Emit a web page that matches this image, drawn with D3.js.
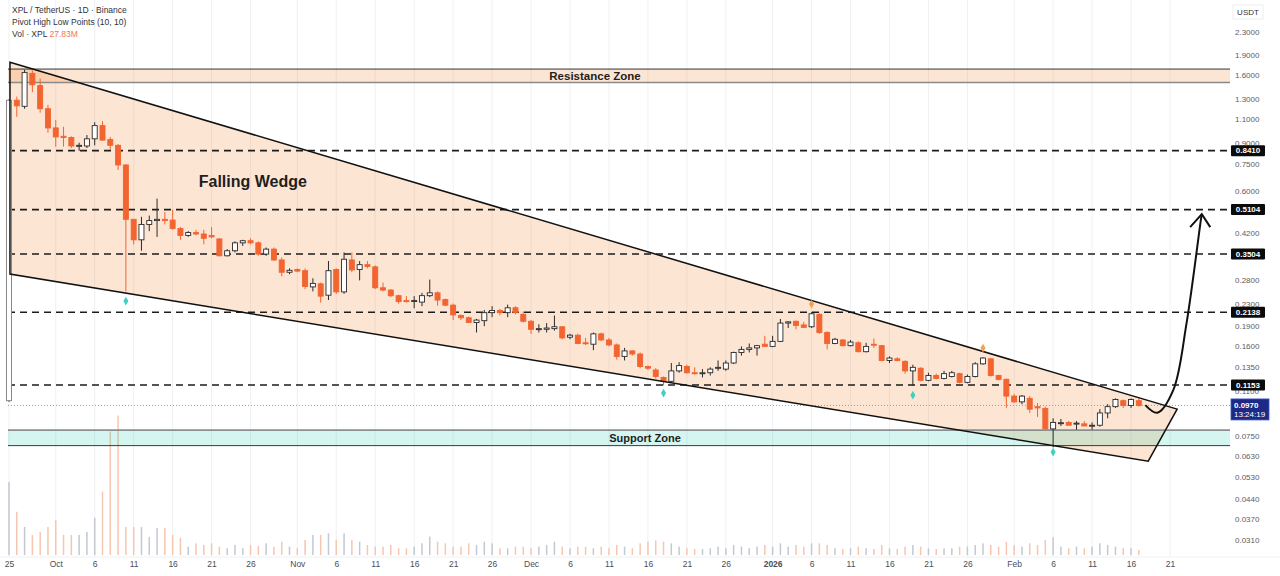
<!DOCTYPE html>
<html>
<head>
<meta charset="utf-8">
<script src="https://cdn.jsdelivr.net/npm/d3@7"></script>
<style>
	body { margin: 0; background: #fff; }
	#chart { width: 1280px; height: 576px; }
	text { font-family: "Liberation Sans", Arial, sans-serif; }
</style>
</head>
<body>
<div id="chart"></div>
<script>

// daily candles from the listing day on (one value per day)
const startDay = "2025-09-25";

const openPrices = [0.101, 1.29, 1.225, 1.62, 1.46, 1.20, 1.02, 0.95, 0.94, 0.875,
	0.875, 0.93, 1.04, 0.925, 0.88, 0.745, 0.47, 0.395, 0.45, 0.465,
	0.47, 0.467, 0.435, 0.41, 0.42, 0.415, 0.41, 0.398, 0.345, 0.36,
	0.385, 0.392, 0.385, 0.35, 0.365, 0.333, 0.30, 0.307, 0.304, 0.265,
	0.272, 0.247, 0.307, 0.254, 0.333, 0.307, 0.32, 0.314, 0.263, 0.258,
	0.246, 0.236, 0.234, 0.233, 0.246, 0.252, 0.238, 0.227, 0.208, 0.204,
	0.196, 0.199, 0.213, 0.217, 0.213, 0.222, 0.21, 0.198, 0.185, 0.185,
	0.186, 0.189, 0.173, 0.176, 0.165, 0.163, 0.178, 0.169, 0.162, 0.147,
	0.154, 0.150, 0.135, 0.131, 0.123, 0.119, 0.130, 0.135, 0.128, 0.127,
	0.128, 0.133, 0.132, 0.139, 0.152, 0.156, 0.158, 0.163, 0.160, 0.167,
	0.195, 0.198, 0.192, 0.189, 0.21, 0.18, 0.164, 0.169, 0.161, 0.165,
	0.153, 0.163, 0.161, 0.142, 0.144, 0.141, 0.130, 0.133, 0.12, 0.125,
	0.122, 0.124, 0.127, 0.118, 0.124, 0.138, 0.144, 0.125, 0.121, 0.105,
	0.1, 0.103, 0.096, 0.0945, 0.0795, 0.0835, 0.084, 0.083, 0.083, 0.0815,
	0.082, 0.091, 0.096, 0.101, 0.097, 0.101];

const highPrices = [1.30, 1.33, 1.67, 1.66, 1.55, 1.24, 1.09, 1.03, 0.95, 0.90,
	0.96, 1.07, 1.08, 0.945, 0.89, 0.75, 0.47, 0.48, 0.485, 0.56,
	0.50, 0.51, 0.44, 0.425, 0.43, 0.43, 0.44, 0.40, 0.365, 0.39,
	0.395, 0.40, 0.39, 0.37, 0.37, 0.34, 0.31, 0.31, 0.31, 0.285,
	0.275, 0.33, 0.31, 0.355, 0.355, 0.33, 0.33, 0.318, 0.275, 0.26,
	0.248, 0.245, 0.245, 0.252, 0.282, 0.255, 0.24, 0.23, 0.21, 0.206,
	0.202, 0.218, 0.225, 0.22, 0.228, 0.225, 0.215, 0.20, 0.193, 0.195,
	0.208, 0.19, 0.178, 0.178, 0.172, 0.18, 0.18, 0.172, 0.164, 0.158,
	0.155, 0.152, 0.136, 0.133, 0.124, 0.139, 0.14, 0.137, 0.134, 0.132,
	0.134, 0.142, 0.142, 0.153, 0.16, 0.164, 0.162, 0.175, 0.175, 0.202,
	0.198, 0.199, 0.197, 0.214, 0.212, 0.182, 0.172, 0.17, 0.169, 0.167,
	0.165, 0.171, 0.162, 0.147, 0.146, 0.142, 0.137, 0.134, 0.128, 0.127,
	0.13, 0.13, 0.128, 0.126, 0.14, 0.146, 0.145, 0.126, 0.122, 0.107,
	0.106, 0.105, 0.099, 0.096, 0.087, 0.0865, 0.085, 0.085, 0.085, 0.084,
	0.094, 0.098, 0.103, 0.102, 0.103, 0.103];

const lowPrices = [0.10, 1.12, 1.20, 1.38, 1.16, 0.98, 0.87, 0.87, 0.86, 0.84,
	0.86, 0.88, 0.915, 0.846, 0.714, 0.255, 0.38, 0.36, 0.425, 0.405,
	0.45, 0.43, 0.395, 0.405, 0.41, 0.38, 0.40, 0.343, 0.343, 0.355,
	0.375, 0.38, 0.345, 0.345, 0.33, 0.29, 0.295, 0.30, 0.26, 0.255,
	0.232, 0.237, 0.25, 0.25, 0.30, 0.28, 0.31, 0.26, 0.255, 0.243,
	0.23, 0.232, 0.221, 0.225, 0.243, 0.226, 0.225, 0.20, 0.20, 0.195,
	0.18, 0.19, 0.205, 0.208, 0.205, 0.21, 0.196, 0.178, 0.18, 0.18,
	0.183, 0.17, 0.17, 0.163, 0.162, 0.155, 0.167, 0.16, 0.143, 0.142,
	0.148, 0.133, 0.131, 0.122, 0.115, 0.118, 0.128, 0.127, 0.126, 0.123,
	0.125, 0.13, 0.13, 0.138, 0.148, 0.152, 0.148, 0.159, 0.159, 0.166,
	0.187, 0.185, 0.188, 0.187, 0.178, 0.156, 0.163, 0.16, 0.16, 0.152,
	0.152, 0.158, 0.141, 0.139, 0.141, 0.127, 0.115, 0.119, 0.119, 0.121,
	0.121, 0.123, 0.117, 0.117, 0.123, 0.137, 0.124, 0.12, 0.095, 0.099,
	0.098, 0.091, 0.088, 0.079, 0.068, 0.0815, 0.083, 0.079, 0.0825, 0.079,
	0.081, 0.087, 0.095, 0.095, 0.095, 0.096];

const closePrices = [1.29, 1.23, 1.63, 1.47, 1.20, 1.02, 0.945, 0.94, 0.875, 0.88,
	0.93, 1.04, 0.92, 0.88, 0.745, 0.47, 0.395, 0.45, 0.465, 0.47,
	0.465, 0.435, 0.41, 0.42, 0.415, 0.40, 0.405, 0.345, 0.36, 0.385,
	0.392, 0.385, 0.35, 0.365, 0.333, 0.30, 0.305, 0.303, 0.266, 0.273,
	0.245, 0.304, 0.254, 0.335, 0.306, 0.32, 0.315, 0.263, 0.258, 0.246,
	0.234, 0.234, 0.236, 0.246, 0.252, 0.237, 0.227, 0.209, 0.204, 0.196,
	0.20, 0.213, 0.217, 0.213, 0.222, 0.213, 0.198, 0.185, 0.186, 0.187,
	0.189, 0.172, 0.176, 0.164, 0.164, 0.178, 0.169, 0.162, 0.147, 0.154,
	0.150, 0.135, 0.133, 0.124, 0.119, 0.130, 0.136, 0.128, 0.127, 0.128,
	0.132, 0.134, 0.139, 0.152, 0.156, 0.158, 0.161, 0.160, 0.167, 0.195,
	0.197, 0.191, 0.188, 0.211, 0.18, 0.164, 0.17, 0.161, 0.166, 0.153,
	0.16, 0.162, 0.142, 0.145, 0.142, 0.13, 0.134, 0.12, 0.125, 0.122,
	0.127, 0.128, 0.118, 0.124, 0.138, 0.145, 0.125, 0.121, 0.105, 0.1,
	0.105, 0.094, 0.095, 0.0795, 0.084, 0.0838, 0.082, 0.0835, 0.0815, 0.082,
	0.091, 0.096, 0.102, 0.097, 0.102, 0.097];

// volume in millions XPL
const volumesM = [400, 237, 154, 110, 127, 154, 193, 110, 110, 110,
	127, 204, 347, 677, 765, 154, 154, 154, 99, 149,
	149, 110, 94, 46, 64, 55, 64, 46, 37, 55,
	37, 55, 50, 64, 46, 73, 46, 37, 83, 110,
	110, 119, 83, 119, 83, 73, 55, 46, 46, 55,
	37, 37, 46, 64, 101, 73, 64, 46, 46, 64,
	55, 73, 64, 37, 37, 46, 46, 37, 46, 55,
	73, 46, 37, 46, 46, 37, 46, 37, 55, 46,
	37, 64, 73, 80, 73, 64, 46, 37, 33, 33,
	37, 46, 37, 55, 46, 37, 46, 55, 46, 64,
	46, 55, 46, 64, 64, 55, 37, 33, 37, 46,
	37, 33, 55, 37, 33, 46, 55, 46, 37, 33,
	37, 37, 46, 46, 55, 64, 55, 46, 73, 55,
	46, 64, 55, 82, 97, 46, 37, 46, 37, 46,
	64, 55, 46, 37, 37, 27.83];

// axis ticks
const xTickDays = ["2025-09-25", "2025-10-01", "2025-10-06", "2025-10-11", "2025-10-16", "2025-10-21", "2025-10-26",
	"2025-11-01", "2025-11-06", "2025-11-11", "2025-11-16", "2025-11-21", "2025-11-26",
	"2025-12-01", "2025-12-06", "2025-12-11", "2025-12-16", "2025-12-21", "2025-12-26",
	"2026-01-01", "2026-01-06", "2026-01-11", "2026-01-16", "2026-01-21", "2026-01-26",
	"2026-02-01", "2026-02-06", "2026-02-11", "2026-02-16", "2026-02-21"];
const yTickValues = [2.3, 1.9, 1.6, 1.3, 1.1, 0.9, 0.75, 0.6, 0.42, 0.28, 0.23, 0.19, 0.16, 0.135, 0.11,
	0.075, 0.063, 0.053, 0.044, 0.037, 0.031];

// drawings on the chart
const keyLevels = [0.8410, 0.5104, 0.3504, 0.2138, 0.1153];
const lastPrice = 0.0970;
const countdown = "13:24:19";
const resistanceZone = [1.50, 1.68];
const supportZone = [0.069, 0.0787];
const pivotLows = [[15, 0.235], [84, 0.1077], [116, 0.1058], [134, 0.0653]];
const pivotHighs = [[103, 0.229], [125, 0.1577]];
const wedgeCorners = [["2025-09-25T03:00", 1.78], ["2026-02-21T22:00", 0.094],
	["2026-02-18T05:00", 0.0605], ["2025-09-25T03:00", 0.2954]];
const arrowCurve = [["2026-02-17T20:00", 0.0973], ["2026-02-19T09:00", 0.0912], ["2026-02-21T10:00", 0.1104],
	["2026-02-23T03:00", 0.195], ["2026-02-24T23:00", 0.467], ["2026-02-25T02:00", 0.491]];
const arrowHead = [["2026-02-23T14:00", 0.440], ["2026-02-25T02:00", 0.491], ["2026-02-26T04:00", 0.440]];
const wedgeLabel = ["2025-10-26T07:00", 0.650, "Falling Wedge"];
const resistanceLabel = ["2025-12-09T05:00", "Resistance Zone"];
const supportLabel = ["2025-12-15T15:00", "Support Zone"];


class WedgeChart {

	constructor(parentElement) {
		this.parentElement = parentElement;
		this.displayData = [];
	}

	initVis() {
		let vis = this;

		vis.width = 1280;
		vis.height = 576;
		vis.plotRight = 1230;
		vis.plotBottom = 557;

		vis.svg = d3.select("#" + vis.parentElement).append("svg")
			.attr("width", vis.width)
			.attr("height", vis.height);

		vis.parseDay = d3.utcParse("%Y-%m-%d");
		vis.parseHour = d3.utcParse("%Y-%m-%dT%H:%M");

		// time scale, one candle per day
		vis.x = d3.scaleUtc()
			.domain([vis.parseDay("2025-09-25"), vis.parseDay("2026-02-21")])
			.range([9, 1170]);

		// log price scale like on the exchange chart
		vis.y = d3.scaleLog()
			.domain([0.031, 2.3])
			.range([540, 32]);

		// volume lives in the bottom strip
		vis.yVol = d3.scaleLinear()
			.domain([0, 850])
			.range([555, 400]);

		vis.orange = "#f26430";

		vis.wrangleData();
	}

	wrangleData() {
		let vis = this;
		let start = vis.parseDay(startDay);

		vis.displayData = openPrices.map((o, i) => ({
			date: d3.utcDay.offset(start, i),
			open: o,
			high: highPrices[i],
			low: lowPrices[i],
			close: closePrices[i],
			vol: volumesM[i],
			up: closePrices[i] >= o
		}));

		vis.updateVis();
	}

	updateVis() {
		let vis = this;
		let x = vis.x, y = vis.y;
		let tickDates = xTickDays.map(vis.parseDay);

		// vertical grid
		vis.svg.append("g").selectAll("line")
			.data(tickDates)
			.enter().append("line")
			.attr("x1", d => x(d)).attr("x2", d => x(d))
			.attr("y1", 0).attr("y2", vis.plotBottom)
			.attr("stroke", "#eef1f5");

		vis.svg.append("line")
			.attr("x1", 0).attr("x2", vis.width)
			.attr("y1", vis.plotBottom).attr("y2", vis.plotBottom)
			.attr("stroke", "#eef1f5");

		// volume bars
		vis.svg.append("g").selectAll("rect")
			.data(vis.displayData)
			.enter().append("rect")
			.attr("x", d => x(d.date) - 0.75)
			.attr("width", 1.5)
			.attr("y", d => vis.yVol(d.vol))
			.attr("height", d => vis.yVol(0) - vis.yVol(d.vol))
			.attr("fill", d => d.up ? "#c4c8d0" : "#f6c6b0");

		// wedge fill
		let pt = d => [x(vis.parseHour(d[0])), y(d[1])];
		vis.svg.append("polygon")
			.attr("points", wedgeCorners.map(pt).join(" "))
			.attr("fill", "rgba(245,125,35,0.2)");

		// zones
		let drawZone = (zone, fill, topColor, bottomColor, topW, bottomW) => {
			vis.svg.append("rect")
				.attr("x", 8).attr("width", vis.plotRight - 8)
				.attr("y", y(zone[1]))
				.attr("height", y(zone[0]) - y(zone[1]))
				.attr("fill", fill);
			vis.svg.append("line")
				.attr("x1", 8).attr("x2", vis.plotRight)
				.attr("y1", y(zone[1])).attr("y2", y(zone[1]))
				.attr("stroke", topColor).attr("stroke-width", topW);
			vis.svg.append("line")
				.attr("x1", 8).attr("x2", vis.plotRight)
				.attr("y1", y(zone[0])).attr("y2", y(zone[0]))
				.attr("stroke", bottomColor).attr("stroke-width", bottomW);
		};
		drawZone(resistanceZone, "rgba(245,125,35,0.2)", "#333", "#8a8a8a", 1, 1.5);
		drawZone(supportZone, "rgba(40,205,180,0.2)", "#8a8f8f", "#3a3a3a", 1.8, 1);

		// key levels
		vis.svg.append("g").selectAll("line")
			.data(keyLevels)
			.enter().append("line")
			.attr("x1", 8).attr("x2", vis.plotRight - 2)
			.attr("y1", d => y(d)).attr("y2", d => y(d))
			.attr("stroke", "#1c1c1c")
			.attr("stroke-width", 1.6)
			.attr("stroke-dasharray", "7,5");

		// last price line
		vis.svg.append("line")
			.attr("x1", 8).attr("x2", vis.plotRight)
			.attr("y1", y(lastPrice)).attr("y2", y(lastPrice))
			.attr("stroke", "#9a9da6")
			.attr("stroke-dasharray", "1,2");

		// candles
		let candles = vis.svg.append("g").selectAll("g")
			.data(vis.displayData)
			.enter().append("g");

		candles.append("line")
			.attr("x1", d => x(d.date)).attr("x2", d => x(d.date))
			.attr("y1", d => y(d.high)).attr("y2", d => y(d.low))
			.attr("stroke", d => d.up ? "#2a2a2a" : vis.orange)
			.attr("stroke-width", 1);

		candles.append("rect")
			.attr("x", d => x(d.date) - 2.5)
			.attr("width", 5)
			.attr("y", d => y(Math.max(d.open, d.close)))
			.attr("height", d => Math.max(1, Math.abs(y(d.open) - y(d.close))))
			.attr("fill", d => d.up ? "#fff" : vis.orange)
			.attr("stroke", d => d.up ? (d.date.getTime() === vis.parseDay(startDay).getTime() ? "#7d7d7d" : "#2a2a2a") : vis.orange)
			.attr("stroke-width", 0.9);

		// wedge outline on top
		vis.svg.append("polygon")
			.attr("points", wedgeCorners.map(pt).join(" "))
			.attr("fill", "none")
			.attr("stroke", "#111")
			.attr("stroke-width", 1.5);

		// pivot markers
		let diamond = d3.symbol().type(d3.symbolDiamond).size(22);
		let dayOf = i => vis.displayData[i].date;
		vis.svg.append("g").selectAll("path")
			.data(pivotLows)
			.enter().append("path")
			.attr("d", diamond)
			.attr("transform", d => "translate(" + x(dayOf(d[0])) + "," + y(d[1]) + ")")
			.attr("fill", "#3fd0c2");
		vis.svg.append("g").selectAll("path")
			.data(pivotHighs)
			.enter().append("path")
			.attr("d", diamond)
			.attr("transform", d => "translate(" + x(dayOf(d[0])) + "," + y(d[1]) + ")")
			.attr("fill", "#f2a04e");

		// projected breakout arrow
		let line = d3.line()
			.x(d => x(vis.parseHour(d[0])))
			.y(d => y(d[1]))
			.curve(d3.curveCatmullRom.alpha(0.5));
		vis.svg.append("path")
			.attr("d", line(arrowCurve))
			.attr("fill", "none")
			.attr("stroke", "#111")
			.attr("stroke-width", 2);
		vis.svg.append("path")
			.attr("d", d3.line().x(d => x(vis.parseHour(d[0]))).y(d => y(d[1]))(arrowHead))
			.attr("fill", "none")
			.attr("stroke", "#111")
			.attr("stroke-width", 2);

		// annotation texts
		vis.svg.append("text")
			.attr("x", x(vis.parseHour(wedgeLabel[0])))
			.attr("y", y(wedgeLabel[1]))
			.attr("dy", "0.35em")
			.attr("text-anchor", "middle")
			.attr("font-size", 16).attr("font-weight", "bold")
			.attr("fill", "#1e1e1e")
			.text(wedgeLabel[2]);

		vis.svg.append("text")
			.attr("x", x(vis.parseHour(resistanceLabel[0])))
			.attr("y", Math.sqrt(y(resistanceZone[0]) * y(resistanceZone[1])))
			.attr("dy", "0.36em")
			.attr("text-anchor", "middle")
			.attr("font-size", 11.5).attr("font-weight", "bold")
			.attr("fill", "#1e1e1e")
			.text(resistanceLabel[1]);

		vis.svg.append("text")
			.attr("x", x(vis.parseHour(supportLabel[0])))
			.attr("y", (y(supportZone[0]) + y(supportZone[1])) / 2)
			.attr("dy", "0.36em")
			.attr("text-anchor", "middle")
			.attr("font-size", 11).attr("font-weight", "bold")
			.attr("fill", "#1e1e1e")
			.text(supportLabel[1]);

		// axes
		let xAxis = d3.axisBottom(x)
			.tickValues(tickDates)
			.tickSize(0)
			.tickPadding(4)
			.tickFormat(d => {
				if (d.getUTCDate() !== 1) return d.getUTCDate();
				return d.getUTCMonth() === 0 ? d.getUTCFullYear() : d3.utcFormat("%b")(d);
			});

		let gx = vis.svg.append("g")
			.attr("transform", "translate(0," + vis.plotBottom + ")")
			.call(xAxis);
		gx.select(".domain").remove();
		gx.selectAll("text")
			.attr("font-size", 8.5)
			.attr("fill", "#4a4d57")
			.attr("font-family", "Liberation Sans, Arial, sans-serif")
			.attr("font-weight", d => (d.getUTCDate() === 1 && d.getUTCMonth() === 0) ? "bold" : "normal");

		let yAxis = d3.axisRight(y)
			.tickValues(yTickValues)
			.tickSize(0)
			.tickPadding(4)
			.tickFormat(d3.format(".4f"));

		let gy = vis.svg.append("g")
			.attr("transform", "translate(" + (vis.plotRight + 1) + ",0)")
			.call(yAxis);
		gy.select(".domain").remove();
		gy.selectAll("text")
			.attr("font-size", 8)
			.attr("fill", "#5a5d66")
			.attr("font-family", "Liberation Sans, Arial, sans-serif");

		// level price tags
		let tags = vis.svg.append("g").selectAll("g")
			.data(keyLevels)
			.enter().append("g")
			.attr("transform", d => "translate(" + (vis.plotRight + 1) + "," + y(d) + ")");
		tags.append("rect")
			.attr("x", 0).attr("y", -5.5)
			.attr("width", 34).attr("height", 11)
			.attr("rx", 1)
			.attr("fill", "#0b0b0b");
		tags.append("text")
			.attr("x", 17).attr("dy", "0.35em")
			.attr("text-anchor", "middle")
			.attr("font-size", 8).attr("font-weight", "bold")
			.attr("fill", "#fff")
			.text(d => d.toFixed(4));

		// last price tag with countdown
		let lp = vis.svg.append("g")
			.attr("transform", "translate(" + (vis.plotRight + 1) + "," + y(lastPrice) + ")");
		lp.append("rect")
			.attr("x", 0).attr("y", -6.5)
			.attr("width", 38).attr("height", 21)
			.attr("fill", "#1c2a86")
			.attr("stroke", "#3d55c8").attr("stroke-width", 0.8);
		lp.append("text")
			.attr("x", 3).attr("y", 0).attr("dy", "0.35em")
			.attr("font-size", 8).attr("font-weight", "bold")
			.attr("fill", "#fff")
			.text(lastPrice.toFixed(4));
		lp.append("text")
			.attr("x", 3).attr("y", 9).attr("dy", "0.35em")
			.attr("font-size", 8)
			.attr("fill", "#fff")
			.text(countdown);

		// currency label
		vis.svg.append("rect")
			.attr("x", vis.plotRight + 3).attr("y", 5)
			.attr("width", 30).attr("height", 14)
			.attr("fill", "#fff").attr("stroke", "#eceef2");
		vis.svg.append("text")
			.attr("x", vis.plotRight + 18).attr("y", 12).attr("dy", "0.35em")
			.attr("text-anchor", "middle")
			.attr("font-size", 8).attr("fill", "#333")
			.text("USDT");

		// legend
		let legend = vis.svg.append("g").attr("font-size", 8.5).attr("fill", "#2f323b");
		legend.append("text").attr("x", 12).attr("y", 13).text("XPL / TetherUS · 1D · Binance");
		legend.append("text").attr("x", 12).attr("y", 25).text("Pivot High Low Points (10, 10)");
		let volLine = legend.append("text").attr("x", 12).attr("y", 37);
		volLine.append("tspan").text("Vol · XPL ");
		volLine.append("tspan").attr("fill", "#f0784a").text(d3.format(".2f")(volumesM[volumesM.length - 1]) + "M");
	}
}

let chart = new WedgeChart("chart");
chart.initVis();

</script>
</body>
</html>
